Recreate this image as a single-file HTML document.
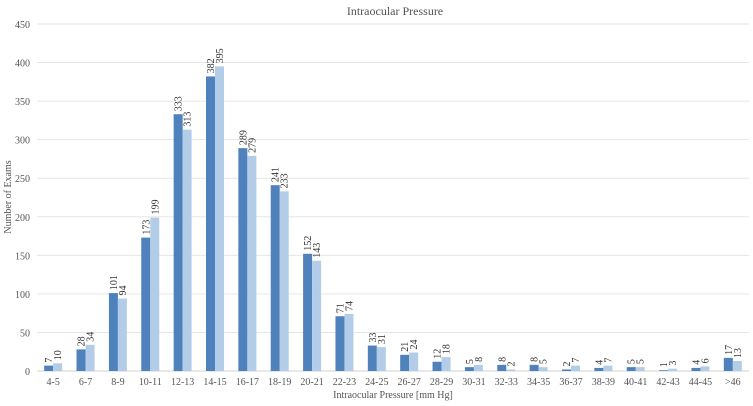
<!DOCTYPE html>
<html><head><meta charset="utf-8"><style>
html,body{margin:0;padding:0;background:#fff;}
svg{display:block;font-family:"Liberation Serif",serif;}
</style></head><body>
<svg id="chart" width="753" height="406">
<text x="395" y="15" text-anchor="middle" font-size="12" fill="#555">Intraocular Pressure</text>
<text transform="translate(11,197) rotate(-90)" text-anchor="middle" font-size="10" fill="#555">Number of Exams</text>
<text x="393" y="398" text-anchor="middle" font-size="10" fill="#555">Intraocular Pressure [mm Hg]</text>
<g id="grid"></g><g id="bars"></g><g id="labels"></g>
</svg>
<script>
const categories=["4-5","6-7","8-9","10-11","12-13","14-15","16-17","18-19","20-21","22-23","24-25","26-27","28-29","30-31","32-33","34-35","36-37","38-39","40-41","42-43","44-45",">46"];
const seriesA=[7,28,101,173,333,382,289,241,152,71,33,21,12,5,8,8,2,4,5,1,4,17];
const seriesB=[10,34,94,199,313,395,279,233,143,74,31,24,18,8,2,5,7,7,5,3,6,13];
const yTicks=[0,50,100,150,200,250,300,350,400,450];
const NS="http://www.w3.org/2000/svg";
const x0=37,x1=749,y0=371,yTop=24,yMax=450;
const band=(x1-x0)/categories.length;
function y(v){return y0-(v/yMax)*(y0-yTop);}
function xc(i){return x0+band*(i+0.5);}
function mk(t,a,p){const e=document.createElementNS(NS,t);for(const k in a)e.setAttribute(k,a[k]);p.appendChild(e);return e;}
const g=document.getElementById('grid'),b=document.getElementById('bars'),l=document.getElementById('labels');
yTicks.forEach(v=>{
 const ln=mk('line',{x1:x0,x2:x1,y1:y(v),y2:y(v),stroke:v===0?'#d0d0d0':'#e6e6e6','stroke-width':1},g);
 
 
 const t=mk('text',{x:30,y:y(v)+4,'text-anchor':'end','font-size':10,fill:'#555'},g);
 t.textContent=v;
 
 
});
const bw=9;
categories.forEach((c,i)=>{
 const cx=xc(i);
 const t=mk('text',{x:cx,y:385,'text-anchor':'middle','font-size':10,fill:'#555'},g);
 t.textContent=c;
 
 
 [[seriesA[i],'#4f81bd',cx-bw],[seriesB[i],'#b3cde8',cx]].forEach((s,k)=>{
  const r=mk('rect',{x:s[2],y:y(s[0]),width:bw,height:y0-y(s[0]),fill:s[1]},b);
  
  
  const lx=s[2]+bw/2+3.5, ly=y(s[0])-3;
  const tx=mk('text',{transform:`translate(${lx},${ly}) rotate(-90)`,'font-size':10,fill:'#333'},l);
  tx.textContent=s[0];
  
  
 });
});
</script>
</body></html>
